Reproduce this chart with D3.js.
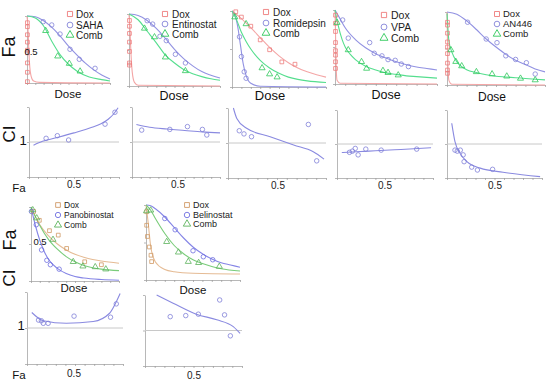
<!DOCTYPE html>
<html>
<head>
<meta charset="utf-8">
<script src="https://cdn.jsdelivr.net/npm/d3@7"></script>
<style>
  body { margin: 0; background: #fff; }
  text { font-family: "Liberation Sans", Arial, sans-serif; }
</style>
</head>
<body>
<div id="chart"></div>
<script>
// ---- dose-response data: [relative dose, Fa] ----
var sahaDox = [[0.005,0.9],[0.005,0.84],[0.005,0.72],[0.005,0.61],[0.005,0.49],[0.005,0.45],[0.005,0.3],[0.005,0.16],[0.005,0.02]];
var sahaDoxFit = [[0,1],[0.01,0.85],[0.02,0.55],[0.03,0.3],[0.05,0.1],[0.08,0.03],[0.15,0.01],[1,0]];
var sahaDrug = [[0.196,0.915],[0.298,0.866],[0.398,0.731],[0.518,0.503],[0.63,0.354],[0.82,0.219]];
var sahaFit = [[0,1],[0.1,0.99],[0.2,0.93],[0.3,0.83],[0.4,0.7],[0.5,0.55],[0.6,0.42],[0.7,0.3],[0.8,0.2],[0.9,0.12],[1,0.06]];
var sahaComb = [[0.225,0.78],[0.37,0.4],[0.51,0.29],[0.64,0.175]];
var sahaCombFit = [[0,1],[0.1,0.97],[0.2,0.85],[0.3,0.62],[0.4,0.42],[0.5,0.28],[0.6,0.18],[0.75,0.09],[0.9,0.05],[1,0.03]];

var entDox = [[0.005,0.91],[0.005,0.83],[0.005,0.73],[0.005,0.61],[0.005,0.48],[0.005,0.32],[0.005,0.29]];
var entDoxFit = [[0,1],[0.01,0.8],[0.02,0.5],[0.035,0.2],[0.06,0.05],[0.1,0.01],[1,0]];
var entDrug = [[0.2,0.907],[0.26,0.86],[0.34,0.69],[0.41,0.63],[0.51,0.44],[0.62,0.32]];
var entFit = [[0,1],[0.1,0.98],[0.2,0.91],[0.3,0.8],[0.4,0.66],[0.5,0.51],[0.6,0.38],[0.7,0.28],[0.8,0.2],[0.9,0.15],[1,0.11]];
var entComb = [[0.17,0.8],[0.28,0.68],[0.4,0.4],[0.62,0.21]];
var entCombFit = [[0,1],[0.1,0.92],[0.2,0.76],[0.3,0.6],[0.4,0.43],[0.5,0.32],[0.6,0.23],[0.7,0.17],[0.8,0.13],[0.9,0.1],[1,0.08]];

var romDox = [[0.04,0.99],[0.1,0.92],[0.2,0.8],[0.3,0.62],[0.4,0.49],[0.53,0.33],[0.67,0.3]];
var romDoxFit = [[0,1],[0.1,0.9],[0.2,0.78],[0.3,0.65],[0.4,0.52],[0.5,0.41],[0.6,0.32],[0.7,0.25],[0.8,0.2],[0.9,0.16],[1,0.13]];
var romDrug = [[0.08,0.66],[0.1,0.4],[0.13,0.2],[0.15,0.115]];
var romFit = [[0,1],[0.03,0.95],[0.06,0.8],[0.09,0.55],[0.12,0.3],[0.15,0.15],[0.2,0.05],[0.3,0.01],[1,0]];
var romComb = [[0.03,0.92],[0.15,0.83],[0.32,0.25],[0.4,0.17],[0.48,0.13]];
var romCombFit = [[0,1],[0.05,0.88],[0.1,0.72],[0.15,0.6],[0.2,0.5],[0.3,0.35],[0.4,0.25],[0.5,0.18],[0.6,0.13],[0.7,0.1],[0.8,0.08],[1,0.06]];

var vpaDox = [[0.005,0.93],[0.005,0.82],[0.005,0.71],[0.005,0.56],[0.005,0.45],[0.005,0.39],[0.005,0.3],[0.005,0.21]];
var vpaDoxFit = [[0,1],[0.005,0.7],[0.01,0.3],[0.02,0.05],[0.05,0.01],[1,0]];
var vpaDrug = [[0.075,0.865],[0.13,0.62],[0.34,0.56],[0.385,0.415],[0.46,0.38],[0.52,0.33],[0.59,0.32],[0.65,0.27],[0.72,0.235]];
var vpaFit = [[0,1],[0.05,0.88],[0.1,0.76],[0.2,0.6],[0.3,0.49],[0.4,0.41],[0.5,0.35],[0.6,0.3],[0.7,0.26],[0.8,0.23],[0.9,0.21],[1,0.19]];
var vpaComb = [[0.02,0.83],[0.13,0.46],[0.26,0.3],[0.31,0.21],[0.47,0.18],[0.52,0.153],[0.62,0.12]];
var vpaCombFit = [[0,1],[0.03,0.8],[0.07,0.6],[0.1,0.5],[0.15,0.4],[0.2,0.33],[0.3,0.24],[0.4,0.19],[0.5,0.15],[0.6,0.13],[0.7,0.11],[0.8,0.1],[1,0.08]];

var anDox = [[0.005,0.86],[0.005,0.82],[0.005,0.71],[0.005,0.59],[0.005,0.52],[0.005,0.43],[0.005,0.3],[0.005,0.205],[0.005,0.16]];
var anDoxFit = [[0,1],[0.005,0.6],[0.01,0.25],[0.02,0.06],[0.05,0.01],[1,0]];
var anDrug = [[0.21,0.86],[0.4,0.63],[0.51,0.58],[0.6,0.4],[0.7,0.35],[0.81,0.305],[0.9,0.15]];
var anFit = [[0,1],[0.1,0.97],[0.2,0.88],[0.3,0.76],[0.4,0.63],[0.5,0.52],[0.6,0.42],[0.7,0.34],[0.8,0.28],[0.9,0.22],[1,0.18]];
var anComb = [[0.04,0.48],[0.09,0.32],[0.15,0.26],[0.3,0.18],[0.46,0.15],[0.61,0.12],[0.75,0.09],[0.9,0.068]];
var anCombFit = [[0,0.98],[0.02,0.6],[0.05,0.45],[0.1,0.32],[0.15,0.25],[0.2,0.21],[0.3,0.17],[0.4,0.14],[0.5,0.12],[0.6,0.11],[0.7,0.1],[0.8,0.09],[1,0.07]];

var panDox = [[0.03,0.94],[0.095,0.82],[0.21,0.68],[0.31,0.62],[0.405,0.44],[0.61,0.26],[0.8,0.22]];
var panDoxFit = [[0,1],[0.05,0.87],[0.1,0.76],[0.2,0.61],[0.3,0.5],[0.4,0.42],[0.5,0.36],[0.6,0.32],[0.7,0.29],[0.8,0.27],[1,0.24]];
var panDrug = [[0.005,0.94],[0.06,0.76],[0.12,0.42],[0.18,0.28],[0.22,0.22],[0.32,0.16]];
var panFit = [[0,1],[0.05,0.75],[0.1,0.55],[0.15,0.4],[0.2,0.29],[0.3,0.17],[0.4,0.1],[0.5,0.06],[0.6,0.04],[0.8,0.02],[1,0.01]];
var panComb = [[0.02,0.96],[0.065,0.85],[0.25,0.56],[0.48,0.26],[0.59,0.2],[0.73,0.19],[0.85,0.16]];
var panCombFit = [[0,1],[0.05,0.87],[0.1,0.75],[0.2,0.56],[0.3,0.43],[0.4,0.33],[0.5,0.26],[0.6,0.21],[0.7,0.18],[0.8,0.16],[1,0.14]];

var belDox = [[0.007,0.91],[0.007,0.73],[0.015,0.58],[0.035,0.44],[0.053,0.33],[0.06,0.245]];
var belDoxFit = [[0,1],[0.02,0.8],[0.05,0.45],[0.1,0.24],[0.2,0.14],[0.3,0.11],[0.5,0.09],[1,0.08]];
var belDrug = [[0.2,0.82],[0.31,0.67],[0.5,0.39],[0.61,0.31],[0.71,0.27]];
var belFit = [[0,1],[0.05,0.99],[0.1,0.95],[0.2,0.84],[0.3,0.7],[0.4,0.56],[0.5,0.44],[0.6,0.35],[0.7,0.28],[0.8,0.23],[0.9,0.2],[1,0.17]];
var belComb = [[0.005,0.92],[0.05,0.93],[0.22,0.51],[0.345,0.37],[0.45,0.245],[0.56,0.23],[0.78,0.18]];
var belCombFit = [[0,1],[0.05,0.93],[0.1,0.82],[0.2,0.62],[0.3,0.46],[0.4,0.35],[0.5,0.27],[0.6,0.22],[0.7,0.18],[0.8,0.15],[1,0.12]];

// ---- combination index data: [Fa, CI] ----
var ciSaha = [[0.19,1.105],[0.315,1.18],[0.44,1.057],[0.845,1.51],[0.955,1.85]];
var ciSahaFit = [[0.05,0.91],[0.15,1.02],[0.3,1.12],[0.5,1.26],[0.7,1.42],[0.8,1.52],[0.88,1.65],[0.94,1.8],[0.99,1.98]];
var ciEnt = [[0.11,1.34],[0.43,1.36],[0.63,1.44],[0.8,1.36],[0.85,1.2]];
var ciEntFit = [[0.05,1.5],[0.2,1.42],[0.4,1.37],[0.6,1.33],[0.8,1.29],[1,1.26]];
var ciRom = [[0.115,1.35],[0.163,1.26],[0.24,1.18],[0.82,1.53],[0.905,0.49]];
var ciRomFit = [[0.055,2.0],[0.09,1.7],[0.19,1.42],[0.43,1.18],[0.67,0.94],[0.87,0.75],[0.98,0.54]];
var ciVpa = [[0.13,0.755],[0.16,0.79],[0.19,0.87],[0.22,0.68],[0.3,0.85],[0.46,0.82],[0.83,0.85]];
var ciVpaFit = [[0.05,0.75],[0.2,0.77],[0.4,0.8],[0.6,0.83],[0.8,0.86],[0.98,0.89]];
var ciAn = [[0.084,0.82],[0.108,0.79],[0.14,0.82],[0.17,0.68],[0.18,0.48],[0.26,0.32],[0.32,0.235],[0.48,0.255]];
var ciAnFit = [[0.05,1.61],[0.084,1.07],[0.137,0.73],[0.21,0.48],[0.35,0.29],[0.59,0.17],[0.98,0.04]];
var ciPan = [[0.12,1.22],[0.15,1.2],[0.17,1.13],[0.22,1.13],[0.49,1.33],[0.87,1.3],[0.93,1.67]];
var ciPanFit = [[0.05,1.43],[0.17,1.2],[0.41,1.13],[0.69,1.18],[0.86,1.41],[0.93,1.73],[0.97,1.96]];
var ciBel = [[0.26,1.39],[0.42,1.42],[0.55,1.46],[0.77,1.86],[0.82,1.44],[0.88,0.85]];
var ciBelFit = [[0.12,2.0],[0.29,1.77],[0.53,1.46],[0.74,1.3],[0.91,1.11],[0.98,0.92]];

var legendNames = ["Dox", "SAHA", "Entinostat", "Romidepsin", "VPA", "AN446", "Panobinostat", "Belinostat", "Comb"];

var topColors = { dox: "#ee7c7c", doxLine: "#f4a6a6", drug: "#8383d8", drugLine: "#9292e2", comb: "#2fc85a", combLine: "#55de8e" };
var lowColors = { dox: "#d09a66", doxLine: "#e5bb94", drug: "#6f6fe0", drugLine: "#8585e6", comb: "#5cb35c", combLine: "#7acc7a" };

var svg = d3.select("#chart").append("svg").attr("width", 550).attr("height", 384);
svg.append("rect").attr("width", 550).attr("height", 384).attr("fill", "#fff");

function scales(box, ymax) {
  return {
    x: d3.scaleLinear().domain([0, 1]).range([box[0], box[1]]),
    y: d3.scaleLinear().domain([0, ymax]).range([box[2], box[3]])
  };
}

function axes(s) {
  svg.append("g").attr("transform", "translate(0," + s.y.range()[0] + ")")
    .call(d3.axisBottom(s.x).ticks(10).tickSize(2).tickSizeOuter(0).tickFormat(""))
    .call(g => g.selectAll("line,path").attr("stroke", "#9a9a9a").attr("stroke-width", 0.7));
  svg.append("g").attr("transform", "translate(" + s.x.range()[0] + ",0)")
    .call(d3.axisLeft(s.y).ticks(2).tickSize(2).tickSizeOuter(0).tickFormat(""))
    .call(g => g.selectAll("line,path").attr("stroke", "#9a9a9a").attr("stroke-width", 0.7));
}

function curve(s, data, color) {
  var line = d3.line().x(d => s.x(d[0])).y(d => s.y(d[1])).curve(d3.curveMonotoneX);
  svg.append("path").datum(data).attr("d", line)
    .attr("fill", "none").attr("stroke", color).attr("stroke-width", 1.1);
}

function marks(s, data, shape, color, size) {
  var sym = d3.symbol().type(shape).size(size);
  svg.append("g").selectAll("path").data(data).enter().append("path")
    .attr("d", sym)
    .attr("transform", d => "translate(" + s.x(d[0]) + "," + s.y(d[1]) + ")")
    .attr("fill", "none").attr("stroke", color).attr("stroke-width", 0.8);
}

function legend(lg, names, c, fs) {
  var shapes = [d3.symbolSquare, d3.symbolCircle, d3.symbolTriangle];
  var cols = [c.dox, c.drug, c.comb];
  names.forEach(function (n, i) {
    var y = lg.y[i];
    svg.append("path").attr("d", d3.symbol().type(shapes[i]).size(fs * 2.6)())
      .attr("transform", "translate(" + lg.mx + "," + y + ")")
      .attr("fill", "none").attr("stroke", cols[i]).attr("stroke-width", 0.9);
    svg.append("text").attr("x", lg.tx).attr("y", y).attr("dy", "0.35em")
      .attr("font-size", fs).attr("fill", "#222").text(n);
  });
}

function doseLabel(x, y, fs) {
  svg.append("text").attr("x", x).attr("y", y).attr("text-anchor", "middle")
    .attr("font-size", fs).attr("fill", "#111").text("Dose");
}

var drPanels = [
  { box: [27, 110, 83, 16], dox: sahaDox, doxFit: sahaDoxFit, drug: sahaDrug, fit: sahaFit, comb: sahaComb, combFit: sahaCombFit, name: legendNames[1], lg: { mx: 70, tx: 76, y: [14, 25, 35] }, fs: 10, dose: [68, 98, 11.5], c: topColors },
  { box: [129, 220, 86, 14], dox: entDox, doxFit: entDoxFit, drug: entDrug, fit: entFit, comb: entComb, combFit: entCombFit, name: legendNames[2], lg: { mx: 165, tx: 172, y: [14, 24, 34] }, fs: 10, dose: [174, 100, 12.5], c: topColors },
  { box: [232, 326, 87, 11], dox: romDox, doxFit: romDoxFit, drug: romDrug, fit: romFit, comb: romComb, combFit: romCombFit, name: legendNames[3], lg: { mx: 266, tx: 273, y: [12, 23, 33] }, fs: 10, dose: [270, 100, 13], c: topColors },
  { box: [335, 437, 84, 10], dox: vpaDox, doxFit: vpaDoxFit, drug: vpaDrug, fit: vpaFit, comb: vpaComb, combFit: vpaCombFit, name: legendNames[4], lg: { mx: 384, tx: 391, y: [15, 27, 38] }, fs: 10.5, dose: [386, 99, 12.5], c: topColors },
  { box: [447, 545, 85, 12], dox: anDox, doxFit: anDoxFit, drug: anDrug, fit: anFit, comb: anComb, combFit: anCombFit, name: legendNames[5], lg: { mx: 497, tx: 503, y: [14, 24, 34] }, fs: 9.5, dose: [492, 101, 12], c: topColors },
  { box: [31, 119, 281, 207], dox: panDox, doxFit: panDoxFit, drug: panDrug, fit: panFit, comb: panComb, combFit: panCombFit, name: legendNames[6], lg: { mx: 58, tx: 64, y: [205, 215, 225] }, fs: 8.5, dose: [74, 292, 11.5], c: lowColors },
  { box: [146, 240, 280, 205], dox: belDox, doxFit: belDoxFit, drug: belDrug, fit: belFit, comb: belComb, combFit: belCombFit, name: legendNames[7], lg: { mx: 187, tx: 193, y: [205, 215, 224] }, fs: 9, dose: [193, 294, 11.5], c: lowColors }
];

drPanels.forEach(function (p) {
  var s = scales(p.box, 1);
  axes(s);
  curve(s, p.doxFit, p.c.doxLine);
  curve(s, p.fit, p.c.drugLine);
  curve(s, p.combFit, p.c.combLine);
  marks(s, p.dox, d3.symbolSquare, p.c.dox, 14);
  marks(s, p.drug, d3.symbolCircle, p.c.drug, 16);
  marks(s, p.comb, d3.symbolTriangle, p.c.comb, 16);
  legend(p.lg, [legendNames[0], p.name, legendNames[8]], p.c, p.fs);
  doseLabel(p.dose[0], p.dose[1], p.dose[2]);
});

var ciPanels = [
  { box: [29, 119, 177, 107], pts: ciSaha, fit: ciSahaFit, tick: [74, 188] },
  { box: [132, 220, 177, 107], pts: ciEnt, fit: ciEntFit, tick: [178, 188] },
  { box: [228, 326, 178, 108], pts: ciRom, fit: ciRomFit, tick: [278, 189] },
  { box: [337, 433, 178, 110], pts: ciVpa, fit: ciVpaFit, tick: [385, 189] },
  { box: [447, 542, 178, 110], pts: ciAn, fit: ciAnFit, tick: [495, 189] },
  { box: [27, 123, 364, 292], pts: ciPan, fit: ciPanFit, tick: [74, 377] },
  { box: [145, 242, 366, 295], pts: ciBel, fit: ciBelFit, tick: [194, 379] }
];

ciPanels.forEach(function (p) {
  var s = scales(p.box, 2);
  axes(s);
  svg.append("line").attr("x1", s.x(0)).attr("x2", s.x(1)).attr("y1", s.y(1)).attr("y2", s.y(1))
    .attr("stroke", "#c8c8c8").attr("stroke-width", 1);
  curve(s, p.fit, "#8a8ae0");
  marks(s, p.pts, d3.symbolCircle, "#8080d8", 16);
  svg.append("text").attr("x", p.tick[0]).attr("y", p.tick[1]).attr("text-anchor", "middle")
    .attr("font-size", 10).attr("fill", "#222").text("0.5");
});

// big row labels
function bigLabel(txt, x, y, fs, rot) {
  svg.append("text").attr("transform", "translate(" + x + "," + y + ")" + (rot ? " rotate(-90)" : ""))
    .attr("text-anchor", "middle").attr("dy", "0.35em")
    .attr("font-size", fs).attr("fill", "#111").text(txt);
}
bigLabel("Fa", 9, 47, 18, true);
bigLabel("0.5", 31, 52, 9.5, false);
bigLabel("CI", 9, 134, 17, true);
bigLabel("1", 23, 140, 13, false);
bigLabel("Fa", 19, 188, 11.5, false);
bigLabel("Fa", 10, 240, 18, true);
bigLabel("0.5", 40, 242, 9.5, false);
bigLabel("CI", 9, 278, 17, true);
bigLabel("1", 21, 325, 13, false);
bigLabel("Fa", 19, 375, 11.5, false);
</script>
</body>
</html>
